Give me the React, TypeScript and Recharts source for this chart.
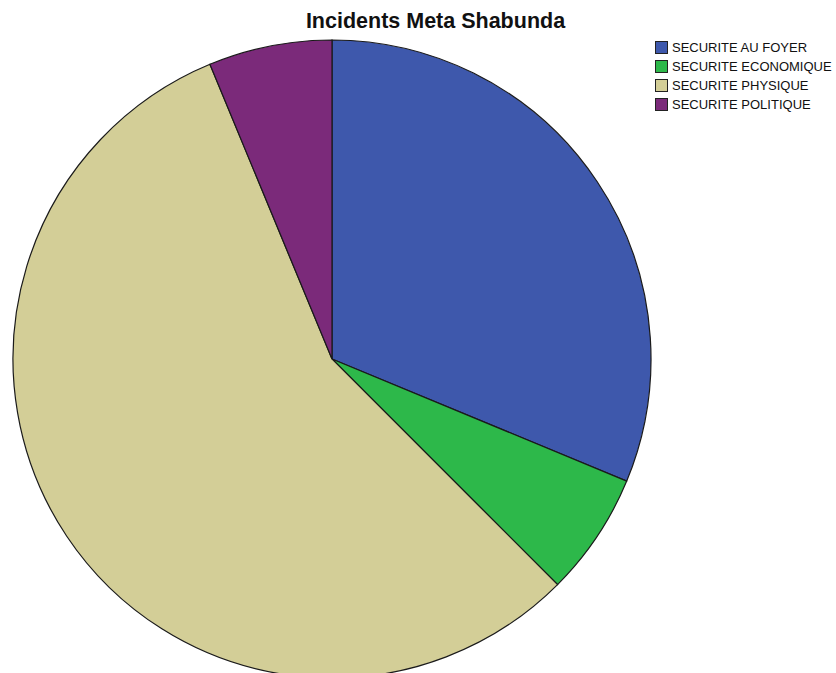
import { Cell, Legend, Pie, PieChart } from 'recharts';

const categories = ['SECURITE AU FOYER', 'SECURITE ECONOMIQUE', 'SECURITE PHYSIQUE', 'SECURITE POLITIQUE'];
const counts = [5, 1, 9, 1];
const colors = ['#3e58ac', '#2db84a', '#d3ce97', '#7b2a7a'];

const data = categories.map((name, i) => ({ name, value: counts[i] }));

function LegendBox() {
  return (
    <div style={{ fontFamily: 'Liberation Sans, Arial, sans-serif', fontSize: 13, color: '#111' }}>
      {categories.map((c, i) => (
        <div key={c} style={{ display: 'flex', alignItems: 'center', height: 19 }}>
          <span
            style={{
              display: 'inline-block',
              width: 11,
              height: 11,
              background: colors[i],
              border: '1px solid #222',
              marginRight: 4,
            }}
          />
          <span>{c}</span>
        </div>
      ))}
    </div>
  );
}

export default function App() {
  return (
    <div style={{ position: 'absolute', left: 0, top: 0, width: 836, height: 673, background: '#fff', overflow: 'hidden' }}>
      <div
        style={{
          position: 'absolute',
          top: 9,
          left: 0,
          width: 871,
          textAlign: 'center',
          fontFamily: 'Liberation Sans, Arial, sans-serif',
          fontWeight: 'bold',
          fontSize: 21.5,
          color: '#111',
        }}
      >
        Incidents Meta Shabunda
      </div>
      <PieChart width={836} height={700} margin={{ top: 0, right: 0, bottom: 0, left: 0 }}>
        <Pie
          data={data}
          dataKey="value"
          nameKey="name"
          cx={332}
          cy={359}
          outerRadius={319}
          startAngle={90}
          endAngle={-270}
          stroke="#1a1a1a"
          strokeWidth={1.2}
          isAnimationActive={false}
        >
          {data.map((d, i) => (
            <Cell key={d.name} fill={colors[i]} />
          ))}
        </Pie>
        <Legend
          layout="vertical"
          align="right"
          verticalAlign="top"
          content={() => <LegendBox />}
          wrapperStyle={{ position: 'absolute', left: 655, top: 38, width: 181 }}
        />
      </PieChart>
    </div>
  );
}
